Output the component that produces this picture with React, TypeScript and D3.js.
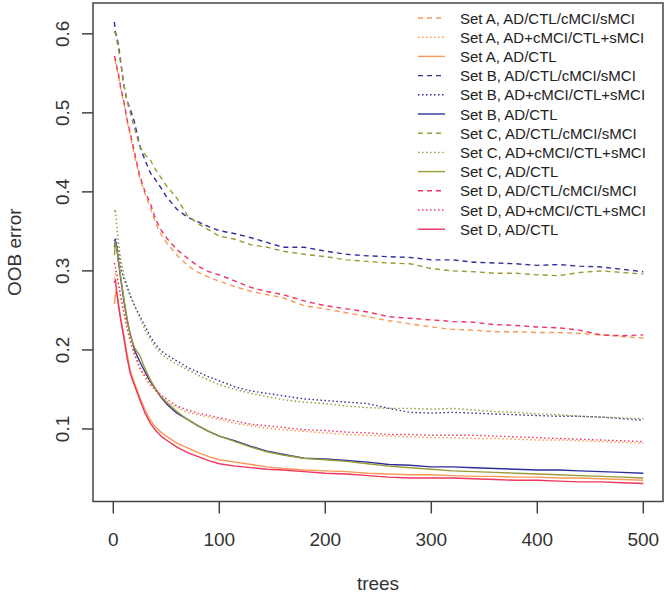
import React from "react";
import * as d3 from "d3";

const trees = [1,2,3,5,7,10,13,16,20,25,30,35,40,45,50,60,70,80,90,100,115,130,145,160,180,200,220,240,260,280,300,320,340,360,380,400,420,440,460,480,500];

const setA4 = [0.568,0.565,0.558,0.546,0.530,0.512,0.490,0.472,0.446,0.417,0.397,0.380,0.360,0.346,0.336,0.320,0.307,0.298,0.292,0.287,0.280,0.274,0.270,0.266,0.256,0.252,0.247,0.242,0.237,0.233,0.229,0.226,0.225,0.223,0.223,0.222,0.222,0.221,0.219,0.217,0.215];
const setA2 = [0.290,0.300,0.296,0.282,0.266,0.246,0.226,0.210,0.193,0.176,0.164,0.155,0.148,0.141,0.135,0.127,0.121,0.118,0.115,0.112,0.107,0.104,0.101,0.099,0.097,0.095,0.093,0.092,0.091,0.090,0.089,0.089,0.088,0.088,0.087,0.086,0.086,0.085,0.084,0.083,0.082];
const setA1 = [0.258,0.270,0.275,0.258,0.240,0.218,0.195,0.174,0.158,0.140,0.124,0.111,0.102,0.096,0.091,0.082,0.076,0.070,0.065,0.061,0.058,0.055,0.052,0.050,0.048,0.047,0.046,0.044,0.043,0.042,0.042,0.041,0.040,0.040,0.039,0.039,0.038,0.038,0.037,0.036,0.035];

const setB4 = [0.615,0.602,0.598,0.585,0.565,0.535,0.515,0.505,0.488,0.458,0.440,0.424,0.415,0.405,0.394,0.378,0.368,0.362,0.356,0.351,0.347,0.342,0.336,0.330,0.330,0.325,0.321,0.319,0.318,0.317,0.314,0.314,0.311,0.310,0.309,0.307,0.308,0.306,0.305,0.302,0.299];
const setB2 = [0.338,0.342,0.336,0.322,0.305,0.290,0.280,0.268,0.256,0.243,0.230,0.217,0.207,0.199,0.194,0.186,0.178,0.172,0.166,0.161,0.153,0.148,0.145,0.142,0.138,0.136,0.134,0.132,0.126,0.121,0.120,0.121,0.120,0.119,0.118,0.117,0.116,0.116,0.115,0.113,0.111];
const setB1 = [0.330,0.338,0.332,0.310,0.290,0.262,0.238,0.220,0.200,0.185,0.172,0.160,0.150,0.140,0.132,0.120,0.112,0.104,0.097,0.091,0.085,0.078,0.072,0.068,0.063,0.062,0.060,0.058,0.055,0.054,0.052,0.052,0.051,0.050,0.049,0.048,0.048,0.047,0.046,0.045,0.044];

const setC4 = [0.603,0.600,0.594,0.580,0.562,0.535,0.515,0.500,0.480,0.458,0.447,0.440,0.428,0.418,0.408,0.392,0.370,0.360,0.352,0.344,0.340,0.333,0.330,0.325,0.321,0.318,0.314,0.312,0.310,0.309,0.303,0.300,0.299,0.297,0.297,0.295,0.294,0.298,0.300,0.298,0.296];
const setC2 = [0.375,0.378,0.360,0.335,0.315,0.295,0.282,0.270,0.257,0.240,0.225,0.213,0.203,0.195,0.190,0.182,0.175,0.168,0.162,0.156,0.150,0.145,0.141,0.137,0.134,0.132,0.129,0.127,0.126,0.126,0.125,0.126,0.124,0.122,0.121,0.119,0.118,0.116,0.115,0.114,0.113];
const setC1 = [0.320,0.336,0.330,0.312,0.292,0.265,0.240,0.218,0.203,0.193,0.176,0.162,0.150,0.141,0.134,0.122,0.112,0.104,0.097,0.091,0.084,0.077,0.071,0.067,0.063,0.061,0.059,0.056,0.053,0.051,0.049,0.047,0.046,0.045,0.044,0.043,0.042,0.041,0.040,0.039,0.038];

const setD4 = [0.572,0.568,0.560,0.548,0.532,0.514,0.492,0.474,0.450,0.420,0.400,0.385,0.365,0.352,0.342,0.327,0.316,0.306,0.299,0.295,0.287,0.279,0.274,0.270,0.262,0.256,0.252,0.248,0.242,0.240,0.238,0.236,0.235,0.232,0.231,0.229,0.228,0.225,0.219,0.218,0.219];
const setD2 = [0.310,0.305,0.298,0.283,0.268,0.248,0.228,0.212,0.195,0.178,0.167,0.157,0.150,0.143,0.138,0.129,0.124,0.120,0.117,0.114,0.110,0.106,0.104,0.102,0.099,0.098,0.096,0.095,0.093,0.093,0.092,0.092,0.092,0.091,0.090,0.089,0.088,0.087,0.086,0.085,0.084];
const setD1 = [0.285,0.289,0.275,0.255,0.238,0.215,0.190,0.170,0.155,0.137,0.120,0.107,0.098,0.091,0.086,0.077,0.070,0.065,0.060,0.056,0.053,0.051,0.049,0.048,0.046,0.044,0.043,0.041,0.039,0.038,0.038,0.038,0.037,0.036,0.035,0.035,0.034,0.033,0.033,0.032,0.031];

const xTicks = [0, 100, 200, 300, 400, 500];
const yTicks = [0.1, 0.2, 0.3, 0.4, 0.5, 0.6];

const colA = "#F89A55";
const colB = "#2F2F9C";
const colC = "#9A9A38";
const colD = "#EE3460";

type Series = { label: string; values: number[]; color: string; kind: "dash" | "dot" | "solid" };

const series: Series[] = [
  { label: "Set A, AD/CTL/cMCI/sMCI", values: setA4, color: colA, kind: "dash" },
  { label: "Set A, AD+cMCI/CTL+sMCI", values: setA2, color: colA, kind: "dot" },
  { label: "Set A, AD/CTL", values: setA1, color: colA, kind: "solid" },
  { label: "Set B, AD/CTL/cMCI/sMCI", values: setB4, color: colB, kind: "dash" },
  { label: "Set B, AD+cMCI/CTL+sMCI", values: setB2, color: colB, kind: "dot" },
  { label: "Set B, AD/CTL", values: setB1, color: colB, kind: "solid" },
  { label: "Set C, AD/CTL/cMCI/sMCI", values: setC4, color: colC, kind: "dash" },
  { label: "Set C, AD+cMCI/CTL+sMCI", values: setC2, color: colC, kind: "dot" },
  { label: "Set C, AD/CTL", values: setC1, color: colC, kind: "solid" },
  { label: "Set D, AD/CTL/cMCI/sMCI", values: setD4, color: colD, kind: "dash" },
  { label: "Set D, AD+cMCI/CTL+sMCI", values: setD2, color: colD, kind: "dot" },
  { label: "Set D, AD/CTL", values: setD1, color: colD, kind: "solid" },
];

const dashFor = (k: string) => (k === "dash" ? "5,4" : k === "dot" ? "1.5,2.5" : undefined);

export default function App() {
  const W = 668, H = 596;
  const left = 93, right = 663, top = 3, bottom = 501.5;
  const x = d3.scaleLinear().domain([-19.15, 518.6]).range([left, right]);
  const y = d3.scaleLinear().domain([0.0082, 0.639]).range([bottom, top]);
  const font = "'Liberation Sans', Arial, Helvetica, sans-serif";
  const axisCol = "#444";
  const textCol = "#333";

  const line = d3.line<number>()
    .x((_, i) => x(trees[i]))
    .y((v) => y(v));

  return (
    <svg width={W} height={H} style={{ position: "absolute", left: 0, top: 0, background: "#fff" }} fontFamily={font}>
      <rect x={0} y={0} width={W} height={H} fill="#fff" />
      <defs>
        <clipPath id="plotclip">
          <rect x={left} y={top} width={right - left} height={bottom - top} />
        </clipPath>
      </defs>
      <g clipPath="url(#plotclip)">
        {series.map((s, i) => (
          <path key={i} d={line(s.values) || ""} fill="none" stroke={s.color}
            strokeWidth={1.4} strokeDasharray={dashFor(s.kind)} strokeLinejoin="round" />
        ))}
      </g>
      <rect x={left} y={top} width={right - left} height={bottom - top} fill="none" stroke={axisCol} strokeWidth={1.5} />
      {xTicks.map((t) => (
        <g key={t}>
          <line x1={x(t)} x2={x(t)} y1={bottom} y2={bottom + 12} stroke={axisCol} strokeWidth={1.5} />
          <text x={x(t)} y={539} textAnchor="middle" dominantBaseline="central" fontSize={19} fill={textCol}>{t}</text>
        </g>
      ))}
      {yTicks.map((t) => (
        <g key={t}>
          <line x1={left - 11} x2={left} y1={y(t)} y2={y(t)} stroke={axisCol} strokeWidth={1.5} />
          <text transform={`translate(62,${y(t)}) rotate(-90)`} textAnchor="middle" dominantBaseline="central" fontSize={19} fill={textCol}>{t.toFixed(1)}</text>
        </g>
      ))}
      <text x={(left + right) / 2} y={583} textAnchor="middle" dominantBaseline="central" fontSize={19} fill={textCol}>trees</text>
      <text transform={`translate(14,${(top + bottom) / 2}) rotate(-90)`} textAnchor="middle" dominantBaseline="central" fontSize={19} fill={textCol}>OOB error</text>
      {series.map((s, i) => {
        const ly = 18 + i * 19.2;
        return (
          <g key={"lg" + i}>
            <line x1={418} x2={445} y1={ly} y2={ly} stroke={s.color} strokeWidth={1.4} strokeDasharray={dashFor(s.kind)} />
            <text x={460} y={ly} dominantBaseline="central" fontSize={15} fill="#222">{s.label}</text>
          </g>
        );
      })}
    </svg>
  );
}
